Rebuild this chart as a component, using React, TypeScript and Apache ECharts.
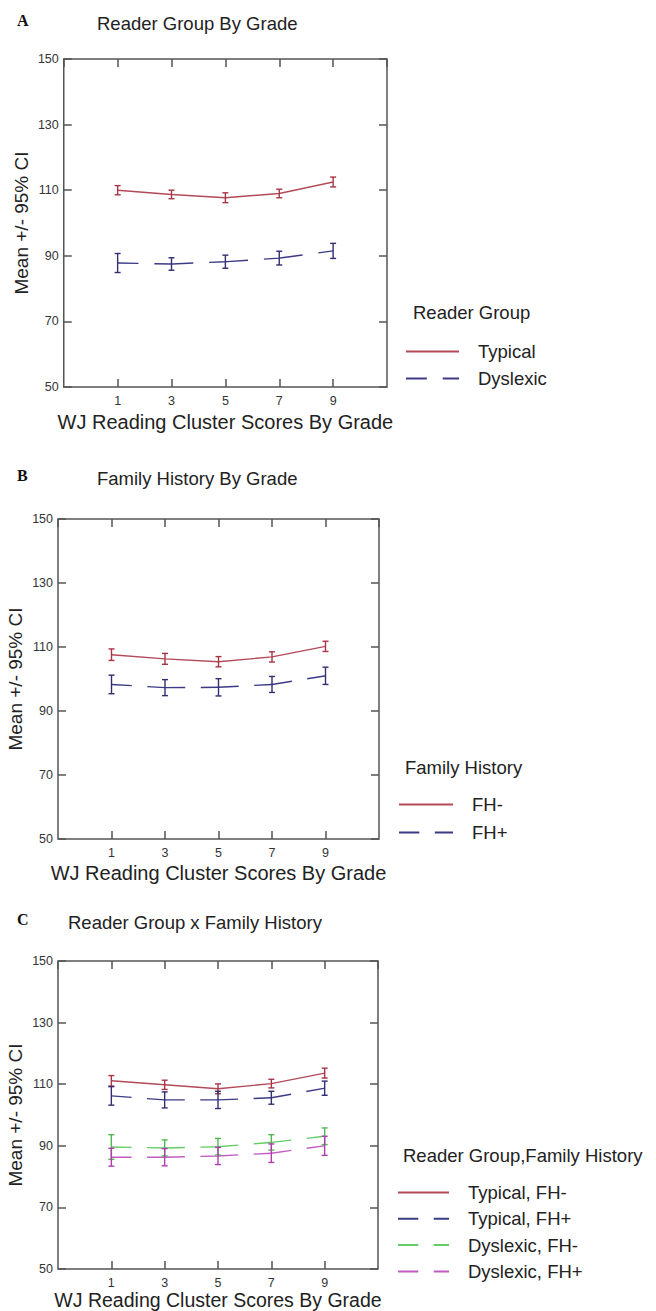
import React, { useEffect, useRef } from "react";
import * as echarts from "echarts";

const grades = [1, 3, 5, 7, 9];
const xMin = -1;
const xMax = 11;
const xStep = 2;
const yMin = 50;
const yMax = 150;
const yStep = 20;

// Panel A: Reader Group By Grade
const typicalA = [110.0, 108.7, 107.7, 109.0, 112.5];
const typicalA_ci = [1.4, 1.3, 1.5, 1.3, 1.5];
const dyslexicA = [87.8, 87.5, 88.2, 89.3, 91.5];
const dyslexicA_ci = [2.9, 1.9, 2.0, 2.1, 2.3];

// Panel B: Family History By Grade
const fhMinusB = [107.6, 106.3, 105.4, 106.9, 110.2];
const fhMinusB_ci = [1.8, 1.7, 1.6, 1.6, 1.6];
const fhPlusB = [98.3, 97.3, 97.4, 98.3, 101.0];
const fhPlusB_ci = [2.9, 2.5, 2.7, 2.5, 2.7];

// Panel C: Reader Group x Family History
const typFhMinusC = [111.1, 109.8, 108.5, 110.2, 113.6];
const typFhMinusC_ci = [1.7, 1.5, 1.6, 1.4, 1.6];
const typFhPlusC = [106.2, 104.9, 104.9, 105.6, 108.7];
const typFhPlusC_ci = [3.0, 2.6, 2.8, 2.1, 2.3];
const dysFhMinusC = [89.6, 89.3, 89.7, 91.1, 93.1];
const dysFhMinusC_ci = [4.0, 2.6, 2.7, 2.5, 2.7];
const dysFhPlusC = [86.3, 86.3, 86.7, 87.6, 90.0];
const dysFhPlusC_ci = [2.9, 2.8, 2.8, 3.0, 3.1];

const panelTitles = ["Reader Group By Grade", "Family History By Grade", "Reader Group x Family History"];
const panelLetters = ["A", "B", "C"];
const legendTitles = ["Reader Group", "Family History", "Reader Group,Family History"];
const xAxisTitle = "WJ Reading Cluster Scores By Grade";
const yAxisTitle = "Mean +/- 95% CI";

const FONT = "'Liberation Sans', Arial, sans-serif";
const RED = "#b34a58";
const BLUE = "#3b3b85";
const GREEN = "#66cc66";
const MAGENTA = "#c25cc2";
const AXIS = "#555555";

type Grp = { name: string; vals: number[]; ci: number[]; color: string; bar: string; dashed: boolean };

const panels: { grid: { left: number; top: number; width: number; height: number }; groups: Grp[]; legend: { left: number; top: number; gap: number; w: number }; titleX: number; titleY: number; headX: number; headY: number; nameGap: number; xFont: number }[] = [
  {
    grid: { left: 58, top: 59, width: 329, height: 328 },
    groups: [
      { name: "Typical", vals: typicalA, ci: typicalA_ci, color: RED, bar: "#a83444", dashed: false },
      { name: "Dyslexic", vals: dyslexicA, ci: dyslexicA_ci, color: BLUE, bar: "#2f2f72", dashed: true },
    ],
    legend: { left: 405, top: 342, gap: 8, w: 53 },
    titleX: 97, titleY: 23, headX: 413, headY: 312, nameGap: 25, xFont: 20,
  },
  {
    grid: { left: 58, top: 519, width: 321, height: 320 },
    groups: [
      { name: "FH-", vals: fhMinusB, ci: fhMinusB_ci, color: RED, bar: "#a83444", dashed: false },
      { name: "FH+", vals: fhPlusB, ci: fhPlusB_ci, color: BLUE, bar: "#2f2f72", dashed: true },
    ],
    legend: { left: 398, top: 795, gap: 9, w: 54 },
    titleX: 97, titleY: 478, headX: 405, headY: 767, nameGap: 24, xFont: 20,
  },
  {
    grid: { left: 58, top: 961, width: 320, height: 308 },
    groups: [
      { name: "Typical, FH-", vals: typFhMinusC, ci: typFhMinusC_ci, color: RED, bar: "#a83444", dashed: false },
      { name: "Typical, FH+", vals: typFhPlusC, ci: typFhPlusC_ci, color: BLUE, bar: "#2f2f72", dashed: true },
      { name: "Dyslexic, FH-", vals: dysFhMinusC, ci: dysFhMinusC_ci, color: GREEN, bar: "#4fb84f", dashed: true },
      { name: "Dyslexic, FH+", vals: dysFhPlusC, ci: dysFhPlusC_ci, color: MAGENTA, bar: "#b03cb0", dashed: true },
    ],
    legend: { left: 397, top: 1183, gap: 7.3, w: 51 },
    titleX: 68, titleY: 922, headX: 403, headY: 1155, nameGap: 21, xFont: 19.5,
  },
];

function buildOption() {
  const grid: any[] = [];
  const xAxis: any[] = [];
  const yAxis: any[] = [];
  const series: any[] = [];
  const legend: any[] = [];
  const graphic: any[] = [];

  panels.forEach((p, g) => {
    grid.push({ ...p.grid, show: true, borderColor: AXIS, borderWidth: 1.5, backgroundColor: "transparent" });
    const tick = { show: true, inside: true, length: 8, lineStyle: { color: AXIS, width: 1.5 } };
    const noLine = { show: false, onZero: false };
    const xBase = { gridIndex: g, type: "value", min: xMin, max: xMax, interval: xStep, axisLine: noLine, splitLine: { show: false }, axisTick: tick };
    const yBase = { gridIndex: g, type: "value", min: yMin, max: yMax, interval: yStep, axisLine: noLine, splitLine: { show: false }, axisTick: tick };
    xAxis.push({
      ...xBase, position: "bottom",
      axisLabel: { showMinLabel: false, showMaxLabel: false, fontSize: 12.5, fontFamily: FONT, color: "#333", margin: 7 },
      name: xAxisTitle, nameLocation: "middle", nameGap: p.nameGap,
      nameTextStyle: { fontSize: p.xFont, fontFamily: FONT, color: "#222" },
    });
    xAxis.push({ ...xBase, position: "top", axisLabel: { show: false } });
    yAxis.push({
      ...yBase, position: "left",
      axisLabel: { fontSize: 12.5, fontFamily: FONT, color: "#333", margin: 5 },
      name: yAxisTitle, nameLocation: "middle", nameGap: 33, nameRotate: 90,
      nameTextStyle: { fontSize: 19, fontFamily: FONT, color: "#222" },
    });
    yAxis.push({ ...yBase, position: "right", axisLabel: { show: false } });

    const seg = (p.grid.width / 12) * 2;
    const dash = [seg * 0.38, seg * 0.29, seg * 0.33, 0];

    p.groups.forEach((gr) => {
      series.push({
        type: "line", name: gr.name, xAxisIndex: 2 * g, yAxisIndex: 2 * g,
        data: grades.map((x, i) => [x, gr.vals[i]]),
        symbol: "none", z: 3,
        itemStyle: { color: gr.color },
        lineStyle: { color: gr.color, width: 1.4, type: gr.dashed ? dash : "solid" },
      });
      series.push({
        type: "custom", name: gr.name + " CI", xAxisIndex: 2 * g, yAxisIndex: 2 * g, z: 4,
        data: grades.map((x, i) => [x, gr.vals[i] - gr.ci[i], gr.vals[i] + gr.ci[i]]),
        encode: { x: 0, y: [1, 2] },
        renderItem: (params: any, api: any) => {
          const x = api.value(0);
          const top = api.coord([x, api.value(2)]);
          const bot = api.coord([x, api.value(1)]);
          const st = { stroke: gr.bar, lineWidth: 1.4 };
          const w = 3;
          return {
            type: "group",
            children: [
              { type: "line", shape: { x1: top[0], y1: top[1], x2: bot[0], y2: bot[1] }, style: st },
              { type: "line", shape: { x1: top[0] - w, y1: top[1], x2: top[0] + w, y2: top[1] }, style: st },
              { type: "line", shape: { x1: bot[0] - w, y1: bot[1], x2: bot[0] + w, y2: bot[1] }, style: st },
            ],
          };
        },
      });
    });

    legend.push({
      orient: "vertical", left: p.legend.left, top: p.legend.top, padding: 0,
      itemWidth: p.legend.w, itemHeight: 14, itemGap: p.legend.gap,
      data: p.groups.map((gr) => gr.name),
      selectedMode: false,
      itemStyle: { color: "rgba(0,0,0,0)", borderWidth: 0, opacity: 0 },
      textStyle: { fontSize: 18.5, fontFamily: FONT, color: "#222", padding: [0, 0, 0, 14] },
    });

    graphic.push({
      type: "text", x: 17, y: p.titleY - 3,
      style: { text: panelLetters[g], fontSize: 16, fontWeight: "bold", fontFamily: "'Liberation Serif', 'Times New Roman', serif", fill: "#111", verticalAlign: "middle", align: "left" },
    });
    graphic.push({
      type: "text", x: p.titleX, y: p.titleY,
      style: { text: panelTitles[g], fontSize: 18.5, fontFamily: FONT, fill: "#222", verticalAlign: "middle", align: "left" },
    });
    graphic.push({
      type: "text", x: p.headX, y: p.headY,
      style: { text: legendTitles[g], fontSize: 18.5, fontFamily: FONT, fill: "#222", verticalAlign: "middle", align: "left" },
    });
  });

  return { animation: false, backgroundColor: "#ffffff", grid, xAxis, yAxis, series, legend, graphic };
}

export default function App() {
  const ref = useRef<HTMLDivElement>(null);
  useEffect(() => {
    document.body.style.margin = "0";
    if (!ref.current) return;
    const chart = echarts.init(ref.current, undefined, { renderer: "svg" });
    chart.setOption(buildOption() as any);
    return () => chart.dispose();
  }, []);
  return <div ref={ref} style={{ width: 656, height: 1311 }} />;
}
